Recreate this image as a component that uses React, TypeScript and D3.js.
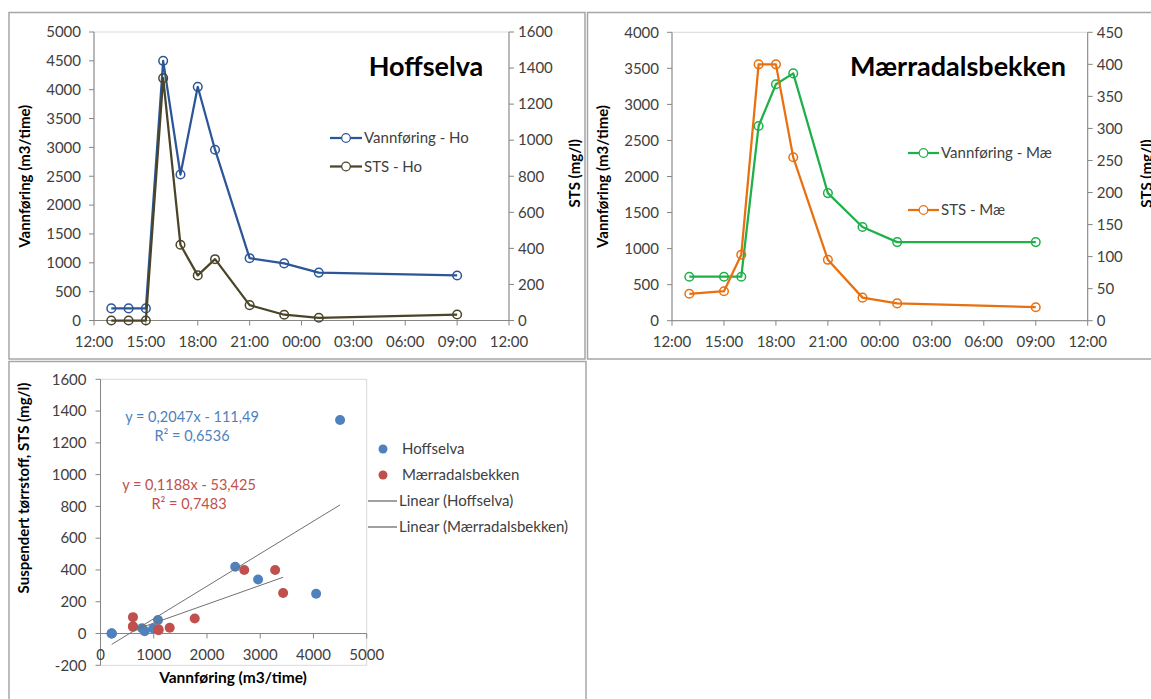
import React from "react";
import * as d3 from "d3";

// ---------- DATA ----------
const hoursHo = [13, 14, 15, 16, 17, 18, 19, 21, 23, 25, 33];
const vannHo = [210, 210, 210, 4500, 2530, 4050, 2960, 1080, 990, 830, 780];
const stsHo = [0, 0, 0, 1344, 420, 250, 340, 85, 32, 15, 33];

const hoursMae = [13, 15, 16, 17, 18, 19, 21, 23, 25, 33];
const vannMae = [610, 610, 610, 2700, 3280, 3430, 1770, 1300, 1090, 1090];
const stsMae = [42, 46, 103, 400, 400, 255, 95, 36, 27, 21];

const xTickHours = [12, 15, 18, 21, 24, 27, 30, 33, 36];
const xTickLabels = ["12:00", "15:00", "18:00", "21:00", "00:00", "03:00", "06:00", "09:00", "12:00"];

const hoLeftTicks = [0, 500, 1000, 1500, 2000, 2500, 3000, 3500, 4000, 4500, 5000];
const hoRightTicks = [0, 200, 400, 600, 800, 1000, 1200, 1400, 1600];
const maeLeftTicks = [0, 500, 1000, 1500, 2000, 2500, 3000, 3500, 4000];
const maeRightTicks = [0, 50, 100, 150, 200, 250, 300, 350, 400, 450];

const scatterXTicks = [0, 1000, 2000, 3000, 4000, 5000];
const scatterYTicks = [-200, 0, 200, 400, 600, 800, 1000, 1200, 1400, 1600];

const trendHo = [0.2047, -111.49]; // slope, intercept
const trendMae = [0.1188, -53.425];
const eqHo = ["y = 0,2047x - 111,49", "R² = 0,6536"];
const eqMae = ["y = 0,1188x - 53,425", "R² = 0,7483"];

// ---------- STYLE ----------
const FONT = "Lato, 'Open Sans', sans-serif";
const TICK_COLOR = "#404040";
const AXIS_COLOR = "#868686";
const PLOT_BORDER = "#d9d9d9";
const PANEL_BORDER = "#a6a6a6";
const TICK_FS = 15;
const TITLE_FS = 15;
const LEG_FS = 15;

const C_HO_V = "#2c5697";
const C_HO_S = "#4a4528";
const C_MAE_V = "#1fb04a";
const C_MAE_S = "#e8700f";
const C_SC_HO = "#4f81bd";
const C_SC_MAE = "#c0504d";

type Series = { hours: number[]; values: number[]; color: string; axis: "left" | "right"; name: string };

function DualLineChart(props: {
  box: { l: number; r: number; t: number; b: number };
  leftTicks: number[];
  rightTicks: number[];
  series: Series[];
  title: string;
  titleX: number;
  leftTitleX: number;
  rightTitleX: number;
  legend: { x1: number; x2: number; ys: number[] };
}) {
  const { box, leftTicks, rightTicks, series } = props;
  const x = d3.scaleLinear().domain([xTickHours[0], xTickHours[xTickHours.length - 1]]).range([box.l, box.r]);
  const yL = d3.scaleLinear().domain([0, leftTicks[leftTicks.length - 1]]).range([box.b, box.t]);
  const yR = d3.scaleLinear().domain([0, rightTicks[rightTicks.length - 1]]).range([box.b, box.t]);
  const midY = (box.t + box.b) / 2;
  return (
    <g>
      <rect x={box.l} y={box.t} width={box.r - box.l} height={box.b - box.t} fill="none" stroke={PLOT_BORDER} />
      {/* left axis */}
      <line x1={box.l} x2={box.l} y1={box.t} y2={box.b} stroke={AXIS_COLOR} />
      {leftTicks.map((v) => (
        <g key={"l" + v}>
          <line x1={box.l - 5} x2={box.l} y1={yL(v)} y2={yL(v)} stroke={AXIS_COLOR} />
          <text x={box.l - 13} y={yL(v)} dy="0.35em" textAnchor="end" fontSize={TICK_FS} fill={TICK_COLOR}>
            {v}
          </text>
        </g>
      ))}
      {/* right axis */}
      <line x1={box.r} x2={box.r} y1={box.t} y2={box.b} stroke={AXIS_COLOR} />
      {rightTicks.map((v) => (
        <g key={"r" + v}>
          <line x1={box.r} x2={box.r + 5} y1={yR(v)} y2={yR(v)} stroke={AXIS_COLOR} />
          <text x={box.r + 9} y={yR(v)} dy="0.35em" textAnchor="start" fontSize={TICK_FS} fill={TICK_COLOR}>
            {v}
          </text>
        </g>
      ))}
      {/* x axis */}
      <line x1={box.l} x2={box.r} y1={box.b} y2={box.b} stroke={AXIS_COLOR} />
      {xTickHours.map((h, i) => (
        <g key={"x" + h}>
          <line x1={x(h)} x2={x(h)} y1={box.b} y2={box.b + 5} stroke={AXIS_COLOR} />
          <text x={x(h)} y={box.b + 21} dy="0.35em" textAnchor="middle" fontSize={TICK_FS} fill={TICK_COLOR}>
            {xTickLabels[i]}
          </text>
        </g>
      ))}
      {/* axis titles */}
      <text
        transform={`translate(${props.leftTitleX},${midY}) rotate(-90)`}
        textAnchor="middle"
        dy="0.35em"
        fontSize={TITLE_FS}
        fontWeight="bold"
        fill="#000"
      >
        Vannføring (m3/time)
      </text>
      <text
        transform={`translate(${props.rightTitleX},${midY - 3}) rotate(-90)`}
        textAnchor="middle"
        dy="0.35em"
        fontSize={TITLE_FS}
        fontWeight="bold"
        fill="#000"
      >
        STS (mg/l)
      </text>
      {/* series */}
      {series.map((s) => {
        const ys = s.axis === "left" ? yL : yR;
        const pts: [number, number][] = s.hours.map((h, i) => [x(h), ys(s.values[i])]);
        const path = d3.line()(pts) || "";
        return (
          <g key={s.name}>
            <path d={path} fill="none" stroke={s.color} strokeWidth={2.25} strokeLinejoin="round" />
            {pts.map((p, i) => (
              <circle key={i} cx={p[0]} cy={p[1]} r={4.3} fill="none" stroke={s.color} strokeWidth={1.5} />
            ))}
          </g>
        );
      })}
      {/* title */}
      <text x={props.titleX} y={76} textAnchor="middle" fontSize={27} fontWeight="bold" fill="#000">
        {props.title}
      </text>
      {/* legend */}
      {series.map((s, i) => {
        const ly = props.legend.ys[i];
        const lx1 = props.legend.x1;
        const lx2 = props.legend.x2;
        return (
          <g key={"lg" + s.name}>
            <line x1={lx1} x2={lx2} y1={ly} y2={ly} stroke={s.color} strokeWidth={2.25} />
            <circle cx={(lx1 + lx2) / 2} cy={ly} r={4.3} fill="#fff" stroke={s.color} strokeWidth={1.2} />
            <text x={lx2 + 2} y={ly} dy="0.35em" fontSize={LEG_FS} fill={TICK_COLOR}>
              {s.name}
            </text>
          </g>
        );
      })}
    </g>
  );
}

function Scatter() {
  const box = { l: 100.5, r: 366.7, t: 379.3, b: 665.3 };
  const x = d3.scaleLinear().domain([0, 5000]).range([box.l, box.r]);
  const y = d3.scaleLinear().domain([-200, 1600]).range([box.b, box.t]);
  const trend = (xs: number[], c: number[]) => {
    const lo = d3.min(xs) as number;
    const hi = d3.max(xs) as number;
    return d3.line()([
      [x(lo), y(c[0] * lo + c[1])],
      [x(hi), y(c[0] * hi + c[1])],
    ]) || "";
  };
  return (
    <g>
      <rect x={box.l} y={box.t} width={box.r - box.l} height={box.b - box.t} fill="none" stroke={PLOT_BORDER} />
      <line x1={box.l} x2={box.l} y1={box.t} y2={box.b} stroke={AXIS_COLOR} />
      {scatterYTicks.map((v) => (
        <g key={"y" + v}>
          <line x1={box.l - 5} x2={box.l} y1={y(v)} y2={y(v)} stroke={AXIS_COLOR} />
          <text x={box.l - 14} y={y(v)} dy="0.35em" textAnchor="end" fontSize={TICK_FS} fill={TICK_COLOR}>
            {v}
          </text>
        </g>
      ))}
      <line x1={box.l} x2={box.r} y1={y(0)} y2={y(0)} stroke={AXIS_COLOR} />
      {scatterXTicks.map((v) => (
        <g key={"x" + v}>
          <line x1={x(v)} x2={x(v)} y1={y(0)} y2={y(0) + 5} stroke={AXIS_COLOR} />
          <text x={x(v)} y={y(0) + 21} dy="0.35em" textAnchor="middle" fontSize={TICK_FS} fill={TICK_COLOR}>
            {v}
          </text>
        </g>
      ))}
      <text
        transform={`translate(24,488) rotate(-90)`}
        textAnchor="middle"
        dy="0.35em"
        fontSize={TITLE_FS}
        fontWeight="bold"
        fill="#000"
      >
        Suspendert tørrstoff, STS (mg/l)
      </text>
      <text x={233} y={678} dy="0.35em" textAnchor="middle" fontSize={TITLE_FS + 0.5} fontWeight="bold" fill="#000">
        Vannføring (m3/time)
      </text>
      {vannHo.map((v, i) => (
        <circle key={"h" + i} cx={x(v)} cy={y(stsHo[i])} r={5} fill={C_SC_HO} />
      ))}
      {vannMae.map((v, i) => (
        <circle key={"m" + i} cx={x(v)} cy={y(stsMae[i])} r={5} fill={C_SC_MAE} />
      ))}
      <path d={trend(vannHo, trendHo)} stroke="#707070" strokeWidth={1} fill="none" />
      <path d={trend(vannMae, trendMae)} stroke="#707070" strokeWidth={1} fill="none" />
      <text x={192} y={417} dy="0.35em" textAnchor="middle" fontSize={14.5} fill={C_SC_HO}>
        {eqHo[0]}
      </text>
      <text x={192} y={436} dy="0.35em" textAnchor="middle" fontSize={14.5} fill={C_SC_HO}>
        {eqHo[1]}
      </text>
      <text x={189} y={485} dy="0.35em" textAnchor="middle" fontSize={14.5} fill={C_SC_MAE}>
        {eqMae[0]}
      </text>
      <text x={189} y={504} dy="0.35em" textAnchor="middle" fontSize={14.5} fill={C_SC_MAE}>
        {eqMae[1]}
      </text>
      {/* legend */}
      <circle cx={383} cy={449} r={4.5} fill={C_SC_HO} />
      <text x={402} y={449} dy="0.35em" fontSize={LEG_FS} fill={TICK_COLOR}>Hoffselva</text>
      <circle cx={383} cy={475} r={4.5} fill={C_SC_MAE} />
      <text x={402} y={475} dy="0.35em" fontSize={LEG_FS} fill={TICK_COLOR}>Mærradalsbekken</text>
      <line x1={368} x2={397} y1={501} y2={501} stroke="#808080" strokeWidth={1.5} />
      <text x={399} y={501} dy="0.35em" fontSize={LEG_FS} fill={TICK_COLOR}>Linear (Hoffselva)</text>
      <line x1={368} x2={397} y1={527} y2={527} stroke="#808080" strokeWidth={1.5} />
      <text x={399} y={527} dy="0.35em" fontSize={LEG_FS} fill={TICK_COLOR}>Linear (Mærradalsbekken)</text>
    </g>
  );
}

export default function App() {
  return (
    <svg
      width={1151}
      height={699}
      style={{ position: "absolute", left: 0, top: 0, background: "#fff", fontFamily: FONT }}
    >
      {/* panel borders */}
      <rect x={9} y={12.5} width={576} height={346.5} fill="#fff" stroke={PANEL_BORDER} strokeWidth={1.5} />
      <rect x={587.5} y={12.5} width={600} height={346.5} fill="#fff" stroke={PANEL_BORDER} strokeWidth={1.5} />
      <rect x={9} y={361.5} width={577} height={400} fill="#fff" stroke={PANEL_BORDER} strokeWidth={1.5} />

      <DualLineChart
        box={{ l: 94, r: 509, t: 32, b: 320.5 }}
        leftTicks={hoLeftTicks}
        rightTicks={hoRightTicks}
        series={[
          { hours: hoursHo, values: vannHo, color: C_HO_V, axis: "left", name: "Vannføring - Ho" },
          { hours: hoursHo, values: stsHo, color: C_HO_S, axis: "right", name: "STS - Ho" },
        ]}
        title="Hoffselva"
        titleX={426}
        leftTitleX={25}
        rightTitleX={575}
        legend={{ x1: 330, x2: 362, ys: [138, 166.5] }}
      />
      <DualLineChart
        box={{ l: 672, r: 1087.7, t: 32.3, b: 320.7 }}
        leftTicks={maeLeftTicks}
        rightTicks={maeRightTicks}
        series={[
          { hours: hoursMae, values: vannMae, color: C_MAE_V, axis: "left", name: "Vannføring - Mæ" },
          { hours: hoursMae, values: stsMae, color: C_MAE_S, axis: "right", name: "STS - Mæ" },
        ]}
        title="Mærradalsbekken"
        titleX={958}
        leftTitleX={603}
        rightTitleX={1147}
        legend={{ x1: 908, x2: 939, ys: [153, 210] }}
      />
      <Scatter />
    </svg>
  );
}
